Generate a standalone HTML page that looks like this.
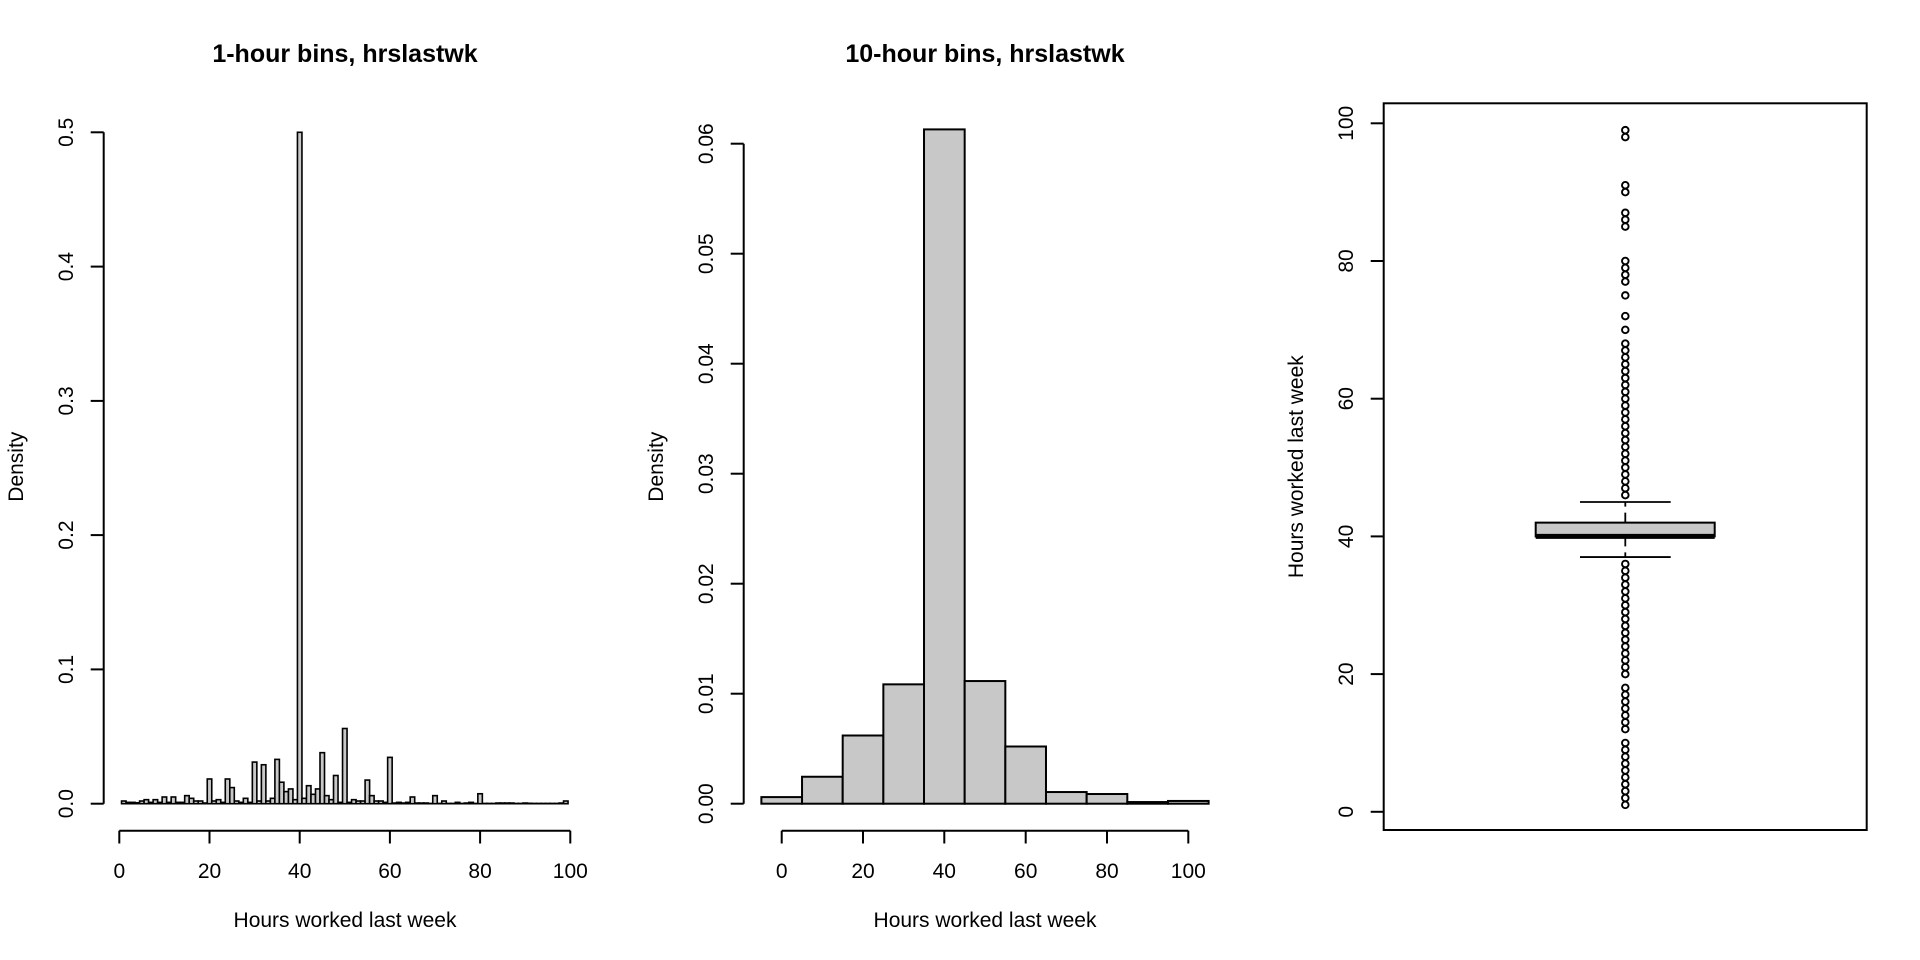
<!DOCTYPE html>
<html><head><meta charset="utf-8"><style>
html,body{margin:0;padding:0;background:#fff}
svg{display:block}
text{font-family:"Liberation Sans",Arial,sans-serif;fill:#000}
</style></head><body>
<svg id="s" width="1920" height="960" viewBox="0 0 1920 960" xmlns="http://www.w3.org/2000/svg">
<rect width="1920" height="960" fill="#fff"/>
<!-- Panel 1 -->
<text x="345" y="62" font-size="25" font-weight="bold" text-anchor="middle">1-hour bins, hrslastwk</text>
<g stroke="#000" stroke-width="2" fill="none">
<line x1="103.7" y1="132.3" x2="103.7" y2="803.7"/>
<line x1="90.7" y1="803.7" x2="103.7" y2="803.7"/><line x1="90.7" y1="669.4" x2="103.7" y2="669.4"/><line x1="90.7" y1="535.1" x2="103.7" y2="535.1"/><line x1="90.7" y1="400.9" x2="103.7" y2="400.9"/><line x1="90.7" y1="266.6" x2="103.7" y2="266.6"/><line x1="90.7" y1="132.3" x2="103.7" y2="132.3"/>
<line x1="119.3" y1="830.7" x2="570.3" y2="830.7"/>
<line x1="119.3" y1="830.7" x2="119.3" y2="843.5"/><line x1="209.5" y1="830.7" x2="209.5" y2="843.5"/><line x1="299.7" y1="830.7" x2="299.7" y2="843.5"/><line x1="389.9" y1="830.7" x2="389.9" y2="843.5"/><line x1="480.1" y1="830.7" x2="480.1" y2="843.5"/><line x1="570.3" y1="830.7" x2="570.3" y2="843.5"/>
</g>
<g font-size="21" text-anchor="middle">
<text transform="translate(73,803.7) rotate(-90)">0.0</text>
<text transform="translate(73,669.4) rotate(-90)">0.1</text>
<text transform="translate(73,535.1) rotate(-90)">0.2</text>
<text transform="translate(73,400.9) rotate(-90)">0.3</text>
<text transform="translate(73,266.6) rotate(-90)">0.4</text>
<text transform="translate(73,132.3) rotate(-90)">0.5</text>
<text x="119.3" y="878">0</text><text x="209.5" y="878">20</text><text x="299.7" y="878">40</text><text x="389.9" y="878">60</text><text x="480.1" y="878">80</text><text x="570.3" y="878">100</text>
<text x="345" y="927">Hours worked last week</text>
<text transform="translate(23,466.7) rotate(-90)">Density</text>
</g>
<g id="b1" fill="#c8c8c8" stroke="#000" stroke-width="1.6"></g>
<!-- Panel 2 -->
<text x="985" y="62" font-size="25" font-weight="bold" text-anchor="middle">10-hour bins, hrslastwk</text>
<g stroke="#000" stroke-width="2" fill="none">
<line x1="743.7" y1="143.7" x2="743.7" y2="803.7"/>
<line x1="730.7" y1="803.7" x2="743.7" y2="803.7"/><line x1="730.7" y1="693.7" x2="743.7" y2="693.7"/><line x1="730.7" y1="583.7" x2="743.7" y2="583.7"/><line x1="730.7" y1="473.7" x2="743.7" y2="473.7"/><line x1="730.7" y1="363.7" x2="743.7" y2="363.7"/><line x1="730.7" y1="253.7" x2="743.7" y2="253.7"/><line x1="730.7" y1="143.7" x2="743.7" y2="143.7"/>
<line x1="781.7" y1="830.7" x2="1188.3" y2="830.7"/>
<line x1="781.7" y1="830.7" x2="781.7" y2="843.5"/><line x1="863" y1="830.7" x2="863" y2="843.5"/><line x1="944.3" y1="830.7" x2="944.3" y2="843.5"/><line x1="1025.7" y1="830.7" x2="1025.7" y2="843.5"/><line x1="1107" y1="830.7" x2="1107" y2="843.5"/><line x1="1188.3" y1="830.7" x2="1188.3" y2="843.5"/>
</g>
<g font-size="21" text-anchor="middle">
<text transform="translate(713,803.7) rotate(-90)">0.00</text>
<text transform="translate(713,693.7) rotate(-90)">0.01</text>
<text transform="translate(713,583.7) rotate(-90)">0.02</text>
<text transform="translate(713,473.7) rotate(-90)">0.03</text>
<text transform="translate(713,363.7) rotate(-90)">0.04</text>
<text transform="translate(713,253.7) rotate(-90)">0.05</text>
<text transform="translate(713,143.7) rotate(-90)">0.06</text>
<text x="781.7" y="878">0</text><text x="863" y="878">20</text><text x="944.3" y="878">40</text><text x="1025.7" y="878">60</text><text x="1107" y="878">80</text><text x="1188.3" y="878">100</text>
<text x="985" y="927">Hours worked last week</text>
<text transform="translate(663,466.7) rotate(-90)">Density</text>
</g>
<g id="b2" fill="#c8c8c8" stroke="#000" stroke-width="2"></g>
<!-- Panel 3 -->
<g stroke="#000" stroke-width="2" fill="none">
<rect x="1383.7" y="103.3" width="483" height="726.7"/>
<line x1="1370.7" y1="811.8" x2="1383.7" y2="811.8"/><line x1="1370.7" y1="674.1" x2="1383.7" y2="674.1"/><line x1="1370.7" y1="536.4" x2="1383.7" y2="536.4"/><line x1="1370.7" y1="398.7" x2="1383.7" y2="398.7"/><line x1="1370.7" y1="261" x2="1383.7" y2="261"/><line x1="1370.7" y1="123.3" x2="1383.7" y2="123.3"/>
</g>
<g font-size="21" text-anchor="middle">
<text transform="translate(1353,811.8) rotate(-90)">0</text>
<text transform="translate(1353,674.1) rotate(-90)">20</text>
<text transform="translate(1353,536.4) rotate(-90)">40</text>
<text transform="translate(1353,398.7) rotate(-90)">60</text>
<text transform="translate(1353,261) rotate(-90)">80</text>
<text transform="translate(1353,123.3) rotate(-90)">100</text>
<text transform="translate(1303,466.7) rotate(-90)">Hours worked last week</text>
</g>
<g id="b3"></g>
</svg>
<script>
var NS="http://www.w3.org/2000/svg";
function el(p,t,a){var e=document.createElementNS(NS,t);for(var k in a)e.setAttribute(k,a[k]);p.appendChild(e);return e;}
var d1={1:0.002,2:0.001,3:0.001,4:0.0007,5:0.002,6:0.003,7:0.001,8:0.003,9:0.001,10:0.005,11:0.001,12:0.005,13:0.001,14:0.001,15:0.006,16:0.004,17:0.002,18:0.002,19:0.0005,20:0.0184,21:0.002,22:0.003,23:0.001,24:0.0184,25:0.012,26:0.002,27:0.001,28:0.004,29:0.001,30:0.031,31:0.002,32:0.029,33:0.002,34:0.004,35:0.033,36:0.016,37:0.009,38:0.011,39:0.003,40:0.5,41:0.004,42:0.0134,43:0.007,44:0.011,45:0.038,46:0.006,47:0.003,48:0.021,49:0.001,50:0.056,51:0.001,52:0.003,53:0.002,54:0.002,55:0.0176,56:0.006,57:0.002,58:0.002,59:0.001,60:0.0345,61:0.0005,62:0.001,63:0.0005,64:0.001,65:0.005,66:0.0005,67:0.0005,68:0.0005,70:0.006,72:0.002,75:0.001,77:0.0005,78:0.001,80:0.0074,84:0.0005,85:0.0005,86:0.0005,87:0.0005,90:0.0005,91:0.0003,98:0.0005,99:0.002};
var g1=document.getElementById('b1');
for(var k=1;k<=99;k++){var v=d1[k]||0.0002;var x0=119.3+(k-0.5)*4.51;var h=v*1342.8;
el(g1,'rect',{x:x0.toFixed(2),y:(803.7-h).toFixed(2),width:4.51,height:h.toFixed(2)});}
var d2=[0.0006,0.00245,0.0062,0.01085,0.0613,0.01115,0.0052,0.00106,0.00088,0.00015,0.00025];
var g2=document.getElementById('b2');
for(var i=0;i<11;i++){var x0=781.7+(i*10-5)*4.066;var h=d2[i]*11000;
el(g2,'rect',{x:x0.toFixed(2),y:(803.7-h).toFixed(2),width:40.66,height:h.toFixed(2)});}
var g3=document.getElementById('b3');
function Y(v){return 811.8-v*6.885;}
var cx=1625.3;
el(g3,'line',{x1:cx,y1:Y(42),x2:cx,y2:Y(45),stroke:'#000','stroke-width':1.8,'stroke-dasharray':'10,6'});
el(g3,'line',{x1:cx,y1:Y(40),x2:cx,y2:Y(37),stroke:'#000','stroke-width':1.8,'stroke-dasharray':'10,6'});
el(g3,'line',{x1:1580,y1:Y(45),x2:1670.7,y2:Y(45),stroke:'#000','stroke-width':1.8});
el(g3,'line',{x1:1580,y1:Y(37),x2:1670.7,y2:Y(37),stroke:'#000','stroke-width':1.8});
el(g3,'rect',{x:1535.7,y:Y(42),width:179,height:Y(40)-Y(42),fill:'#c8c8c8',stroke:'#000','stroke-width':2});
el(g3,'line',{x1:1535.7,y1:Y(40),x2:1714.7,y2:Y(40),stroke:'#000','stroke-width':5});
var outs=[];
for(var v=1;v<=10;v++)outs.push(v);for(v=12;v<=18;v++)outs.push(v);for(v=20;v<=36;v++)outs.push(v);
for(v=46;v<=68;v++)outs.push(v);outs=outs.concat([70,72,75,77,78,79,80,85,86,87,90,91,98,99]);
outs.forEach(function(v){el(g3,'circle',{cx:cx,cy:Y(v).toFixed(2),r:3.3,fill:'none',stroke:'#000','stroke-width':1.9});});
</script>
</body></html>
